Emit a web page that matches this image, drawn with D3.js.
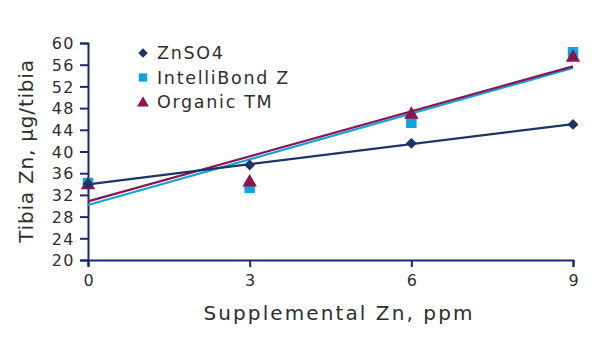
<!DOCTYPE html>
<html><head><meta charset="utf-8">
<script src="https://cdn.jsdelivr.net/npm/d3@7"></script>
<style>body{margin:0;background:#fff}svg{display:block}</style>
</head><body><svg id="c" width="600" height="345"></svg>
<script>
const xValues = [0, 3, 6, 9];
const seriesNames = ["ZnSO4", "IntelliBond Z", "Organic TM"];
const znso4 = [34.0, 37.5, 41.5, 45.0];
const intelliBond = [34.2, 33.3, 45.3, 58.3];
const organicTM = [34.0, 34.5, 47.0, 57.5];
const yTicks = [20, 24, 28, 32, 36, 40, 44, 48, 52, 56, 60];
const xTicks = [0, 3, 6, 9];
const colors = ["#1c3566", "#12a3dd", "#8a1650"];
const shapes = [d3.symbolSquare, d3.symbolSquare, d3.symbolTriangle];

const svg = d3.select("#c");
const font = "'DejaVu Sans', sans-serif";
const axisColor = "#1b2a6b";
const textColor = "#2e2e2e";
const x = d3.scaleLinear().domain([0, 9]).range([88, 573]);
const y = d3.scaleLinear().domain([20, 60]).range([260, 43]);

const ya = svg.append("g").attr("transform", "translate(88,0)")
  .call(d3.axisLeft(y).tickValues(yTicks).tickSize(8).tickPadding(5));
const xa = svg.append("g").attr("transform", "translate(0,260)")
  .call(d3.axisBottom(x).tickValues(xTicks).tickSize(7).tickPadding(8));
[ya, xa].forEach(a => {
  a.select(".domain").attr("stroke", axisColor).attr("stroke-width", 2);
  a.selectAll(".tick line").attr("stroke", axisColor).attr("stroke-width", 2);
  a.selectAll("text").attr("fill", textColor).style("font-family", font)
    .style("font-size", "16px").style("letter-spacing", "1.5px");
});
ya.selectAll("text").attr("dy", "0.36em");
xa.selectAll("text").attr("dx", "0.75px");

svg.append("text").attr("transform", "translate(33,151) rotate(-90)")
  .attr("text-anchor", "middle").attr("fill", textColor)
  .style("font-family", font).style("font-size", "20px").style("letter-spacing", "0.8px")
  .text("Tibia Zn, µg/tibia");
svg.append("text").attr("x", 339).attr("y", 320)
  .attr("text-anchor", "middle").attr("fill", textColor)
  .style("font-family", font).style("font-size", "20px").style("letter-spacing", "2.1px")
  .text("Supplemental Zn, ppm");

const series = [intelliBond, organicTM, znso4];
const idx = [1, 2, 0];

function fit(vals) {
  const mx = d3.mean(xValues), my = d3.mean(vals);
  let num = 0, den = 0;
  xValues.forEach((xv, i) => { num += (xv - mx) * (vals[i] - my); den += (xv - mx) ** 2; });
  const b = num / den; return [my - b * mx, b];
}

series.forEach((vals, k) => {
  const [a, b] = fit(vals);
  svg.append("line")
    .attr("x1", x(0)).attr("y1", y(a)).attr("x2", x(9)).attr("y2", y(a + 9 * b))
    .attr("stroke", colors[idx[k]]).attr("stroke-width", 2.2);
});

function markerTransform(i, px, py) {
  return i === 0 ? `translate(${px},${py}) rotate(45)` : `translate(${px},${py + (i === 2 ? 1 : 0)})`;
}

series.forEach((vals, k) => {
  const i = idx[k];
  const sz = i === 0 ? 60 : i === 1 ? 110 : 90;
  svg.append("g").selectAll("path").data(vals).join("path")
    .attr("d", d3.symbol().type(shapes[i]).size(sz))
    .attr("transform", (d, j) => markerTransform(i, x(xValues[j]), y(d)))
    .attr("fill", colors[i]);
});

seriesNames.forEach((n, i) => {
  const ly = 53 + i * 24.5;
  const sz = i === 0 ? 45 : i === 1 ? 70 : 60;
  svg.append("path").attr("d", d3.symbol().type(shapes[i]).size(sz))
    .attr("transform", markerTransform(i, 143, ly)).attr("fill", colors[i]);
  svg.append("text").attr("x", 157).attr("y", ly + 6).attr("fill", textColor)
    .style("font-family", font).style("font-size", "17.5px").style("letter-spacing", "1.7px").text(n);
});
</script></body></html>
